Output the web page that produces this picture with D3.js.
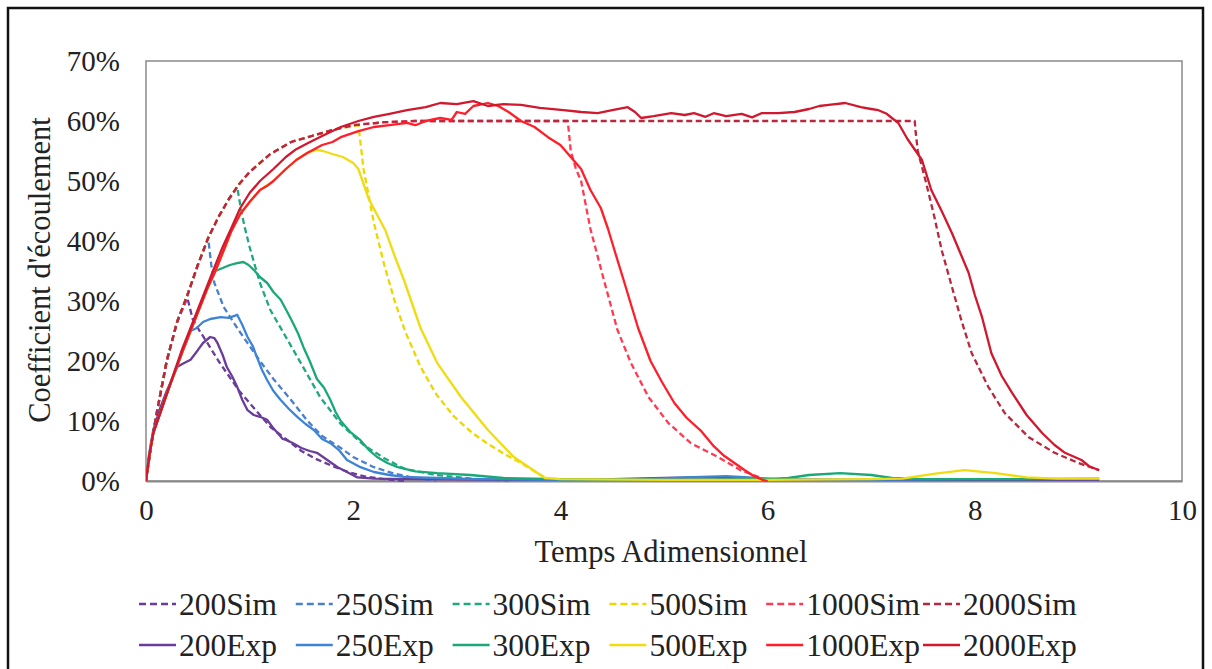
<!DOCTYPE html>
<html><head><meta charset="utf-8">
<script src="https://cdn.jsdelivr.net/npm/d3@7"></script>
<style>body{margin:0;background:#fff}svg{display:block}text{font-family:"Liberation Serif","Times New Roman",serif;fill:#222}</style>
</head><body><svg id="c" width="1212" height="669"></svg>
<script>
// ---------- DATA ----------
const xTicks = [0, 2, 4, 6, 8, 10];
const yTicks = [0, 0.1, 0.2, 0.3, 0.4, 0.5, 0.6, 0.7];
const xTitle = "Temps Adimensionnel";
const yTitle = "Coefficient  d'écoulement";

const seriesNames = ["200Sim","250Sim","300Sim","500Sim","1000Sim","2000Sim","200Exp","250Exp","300Exp","500Exp","1000Exp","2000Exp"];
const seriesColors = ["#6a3d9a","#4a7fd0","#22a880","#ecd800","#ff3a52","#b8283e","#6a3d9a","#3d84d6","#1aa87a","#f0dc10","#ff1e2a","#d0182e"];
const seriesDashed = [true,true,true,true,true,true,false,false,false,false,false,false];

// Simulated curves (t, percent)
const t200Sim = [0,0.05,0.1,0.2,0.3,0.4,0.45,0.5,0.6,0.7,0.8,0.9,1.0,1.1,1.2,1.35,1.5,1.65,1.8,1.95,2.1,2.3,2.5];
const v200Sim = [0,6,11,20,26.5,30.5,27,25.5,22.8,20,17.5,15,13,11,9,7,5,3.6,2.5,1.5,0.8,0.3,0];
const t250Sim = [0,0.05,0.1,0.2,0.3,0.4,0.5,0.6,0.63,0.66,0.75,0.9,1.0,1.1,1.23,1.4,1.56,1.7,1.88,2.0,2.2,2.4,2.6,2.8];
const v250Sim = [0,6,11,20,26.5,31,36,40.5,36,33,29,25,22.5,20,17,13.5,10,7.5,5.5,4,2.3,1.2,0.5,0];
const t300Sim = [0,0.05,0.1,0.2,0.3,0.4,0.5,0.6,0.7,0.8,0.88,0.92,0.95,1.0,1.1,1.2,1.35,1.5,1.68,1.88,2.1,2.3,2.5,2.8,3.2,3.5];
const v300Sim = [0,6,11,20,26.5,31,36,40.5,44,47,49,45,42.5,39,33,28.5,24,19.5,14,9.5,6,3.8,2,1,0.3,0];
const t500Sim = [0,0.05,0.1,0.2,0.3,0.4,0.5,0.6,0.7,0.8,0.9,1.0,1.2,1.4,1.6,1.8,2.05,2.1,2.2,2.3,2.4,2.5,2.65,2.8,2.97,3.15,3.3,3.45,3.62,3.78,3.88];
const v500Sim = [0,6,11,20,26.5,31,36,40.5,44,47,49.5,51.5,54.5,56.5,57.5,58.5,59.3,52,43,36,30,25,19,14.5,10.8,8,6.2,4.6,3,1.3,0.3];
const t1000Sim = [0,0.05,0.1,0.2,0.3,0.4,0.5,0.6,0.7,0.8,0.9,1.0,1.2,1.4,1.6,1.8,2.0,2.3,2.6,4.07,4.08,4.1,4.15,4.2,4.29,4.42,4.55,4.68,4.85,5.04,5.26,5.52,5.74,5.91,6.0];
const v1000Sim = [0,6,11,20,26.5,31,36,40.5,44,47,49.5,51.5,54.5,56.5,57.5,58.5,59.3,59.8,60,60,58.5,55,52,50,42,33.5,25.2,19.7,14,9.7,6.3,4,1.8,0.7,0];
const t2000Sim = [0,0.05,0.1,0.2,0.3,0.4,0.5,0.6,0.7,0.8,0.9,1.0,1.2,1.4,1.6,1.8,2.0,2.3,2.6,7.42,7.43,7.45,7.53,7.61,7.68,7.78,7.87,7.97,8.13,8.29,8.52,8.77,9.0,9.2];
const v2000Sim = [0,6,11,20,26.5,31,36,40.5,44,47,49.5,51.5,54.5,56.5,57.5,58.5,59.3,59.8,60,60,58,55,49.7,44,38.5,32.3,26.8,21.3,15.7,11.3,7.3,4.7,3,1.8];

// Experimental curves (t, percent)
const t200Exp = [0,0.03,0.07,0.14,0.2,0.26,0.3,0.35,0.43,0.5,0.55,0.62,0.66,0.69,0.74,0.78,0.83,0.88,0.93,0.98,1.04,1.1,1.17,1.22,1.27,1.32,1.36,1.42,1.5,1.58,1.65,1.75,1.85,1.94,2.04,2.2,2.5,3.5,4.5,5.0,5.4,5.8,6.2,7.0,8.0,9.2];
const v200Exp = [0,4.5,8.5,12.3,15,17.3,19,19.5,20.2,21.8,23,24,23.8,23,21,19,17.5,15.7,13.5,11.8,11,10.7,10.2,9,8,7,6.8,6.3,5.5,5,4.7,3.5,2.3,1.5,0.6,0.4,0.3,0.2,0.3,0.5,0.6,0.4,0.2,0.2,0.2,0.2];
const t250Exp = [0,0.03,0.07,0.14,0.2,0.26,0.35,0.43,0.49,0.55,0.62,0.72,0.8,0.88,0.93,0.98,1.03,1.07,1.12,1.17,1.23,1.3,1.38,1.46,1.54,1.62,1.7,1.78,1.86,1.94,2.07,2.2,2.35,2.49,2.8,3.2,4.0,4.8,5.2,5.6,5.9,6.1,7.0,8.0,9.2];
const v250Exp = [0,4,8,11.5,14.5,17.3,21.5,25,25.5,26.5,27,27.3,27.2,27.7,26,24,22.5,20.7,18.5,16.8,15,13.5,12,10.7,9.5,8.5,7,6.3,5.2,3.5,2.3,1.5,1,0.7,0.5,0.3,0.2,0.3,0.6,0.8,0.5,0.3,0.2,0.3,0.3];
const t300Exp = [0,0.03,0.07,0.14,0.2,0.26,0.35,0.43,0.51,0.59,0.67,0.74,0.81,0.88,0.94,0.99,1.04,1.1,1.17,1.23,1.3,1.36,1.42,1.47,1.52,1.58,1.65,1.72,1.78,1.83,1.88,1.97,2.07,2.15,2.23,2.33,2.43,2.6,2.81,3.13,3.45,4.0,5.0,6.0,6.2,6.4,6.7,7.0,7.2,7.5,8.5,9.2];
const v300Exp = [0,4,8,11.5,14.5,17.3,21.5,25,28.5,32,35,35.5,36,36.3,36.5,36,35.2,34,33,31.5,30.2,28.3,26.3,24.5,22.3,20,17,15.5,13.5,11.5,10,8.2,6.8,5.2,4,3,2.3,1.6,1.3,1,0.5,0.3,0.2,0.3,0.5,1.0,1.3,1.0,0.5,0.3,0.3,0.4];
const t500Exp = [0,0.03,0.07,0.14,0.2,0.26,0.35,0.43,0.51,0.59,0.67,0.74,0.82,0.91,1.0,1.1,1.23,1.35,1.45,1.56,1.64,1.71,1.8,1.9,2.0,2.05,2.15,2.31,2.4,2.49,2.65,2.81,3.04,3.3,3.55,3.74,3.85,4.0,5.0,6.0,7.0,7.3,7.6,7.9,8.2,8.5,8.8,9.2];
const v500Exp = [0,4,8,11.5,14.5,17.3,21.5,25,28.5,32,35,38,41.5,44.5,46.5,48.5,50,52,53.5,54.7,55.2,55,54.5,54,53,52,47,41.8,37.5,33.5,25.5,19.7,14,8.5,4,1.8,0.5,0.3,0.2,0.2,0.3,0.4,1.2,1.8,1.3,0.6,0.4,0.4];
const t1000Exp = [0,0.03,0.07,0.14,0.2,0.26,0.35,0.43,0.51,0.59,0.67,0.74,0.82,0.91,1.0,1.1,1.17,1.23,1.35,1.45,1.56,1.7,1.8,1.88,2.05,2.2,2.35,2.52,2.6,2.7,2.84,2.95,3.0,3.08,3.16,3.25,3.3,3.4,3.5,3.62,3.75,3.88,4.0,4.1,4.2,4.29,4.39,4.46,4.53,4.61,4.68,4.75,4.87,4.98,5.1,5.22,5.36,5.48,5.58,5.68,5.78,5.87,5.95,6.0];
const v1000Exp = [0,4,8,11.5,14.5,17.3,21.5,25,28.5,32,35,38,41.5,44.5,46.5,48.5,49.2,50,52,53.5,54.7,56,56.5,57.3,58.3,59,59.3,59.7,59.3,60,60.5,60.2,61.5,61.2,62.5,62.8,63,62.5,61.5,60,59,57.3,56,54,52,48.5,45.5,42,38,33.5,29.5,25.5,20,16.5,13,10.5,8.3,5.8,4.2,3,1.8,0.8,0.2,0];
const t2000Exp = [0,0.03,0.07,0.14,0.26,0.35,0.43,0.51,0.59,0.67,0.74,0.82,0.91,1.0,1.1,1.23,1.35,1.45,1.56,1.7,1.88,2.05,2.2,2.35,2.52,2.7,2.84,3.0,3.16,3.3,3.45,3.62,3.8,4.03,4.2,4.36,4.5,4.65,4.72,4.78,4.9,5.07,5.2,5.29,5.4,5.48,5.6,5.75,5.85,5.94,6.1,6.26,6.4,6.5,6.59,6.75,6.9,7.0,7.07,7.15,7.2,7.26,7.35,7.49,7.58,7.68,7.78,7.86,7.94,8.0,8.07,8.16,8.26,8.36,8.5,8.65,8.77,8.87,9.03,9.1,9.2];
const v2000Exp = [0,4,8,11.5,17.5,22,25.5,29,32.5,36,39,42,45.5,48,50,52,54,55.3,56.3,57.5,59,60,60.7,61.2,61.8,62.3,63,62.8,63.3,62.5,62.8,62.7,62.2,61.8,61.5,61.3,61.8,62.3,61.5,60.5,60.8,61.3,61,61.3,60.7,61.3,60.8,61.2,60.6,61.3,61.3,61.5,62,62.5,62.7,63,62.3,62,61.8,61.2,60.5,59.7,57,53.5,48.5,45,41.3,38,34.7,31,27.3,21.3,17.5,14.7,11,8,6,4.7,3.5,2.5,1.8];

const seriesT = [t200Sim,t250Sim,t300Sim,t500Sim,t1000Sim,t2000Sim,t200Exp,t250Exp,t300Exp,t500Exp,t1000Exp,t2000Exp];
const seriesV = [v200Sim,v250Sim,v300Sim,v500Sim,v1000Sim,v2000Sim,v200Exp,v250Exp,v300Exp,v500Exp,v1000Exp,v2000Exp];

// ---------- DRAW ----------
const svg = d3.select("#c");
const TICKFONT = 29, TITLEFONT = 30.5, LEGFONT = 31.5;
const L = 146, R = 1182, T = 61, B = 481;
const x = d3.scaleLinear().domain([0, 10]).range([L, R]);
const y = d3.scaleLinear().domain([0, 0.7]).range([B, T]);

// outer frame
svg.append("rect").attr("x", 8).attr("y", 8).attr("width", 1195).attr("height", 700)
  .attr("fill", "none").attr("stroke", "#111").attr("stroke-width", 2.5);

// plot box
svg.append("rect").attr("x", L).attr("y", T).attr("width", R - L).attr("height", B - T)
  .attr("fill", "none").attr("stroke", "#8a8a8a").attr("stroke-width", 1.5);

svg.append("clipPath").attr("id", "clip").append("rect")
  .attr("x", L).attr("y", T - 2).attr("width", R - L).attr("height", B - T + 4);

// axes
const yAxis = svg.append("g").attr("transform", `translate(${L},0)`)
  .call(d3.axisLeft(y).tickValues(yTicks).tickFormat(d3.format(".0%")).tickSize(0).tickPadding(26));
yAxis.select(".domain").remove();
yAxis.selectAll("text").style("font-size", TICKFONT + "px").attr("dy", "0.34em");

const xAxis = svg.append("g").attr("transform", `translate(0,${B})`)
  .call(d3.axisBottom(x).tickValues(xTicks).tickFormat(d3.format("d")).tickSize(0).tickPadding(30));
xAxis.select(".domain").attr("stroke", "#8a8a8a").attr("stroke-width", 2);
xAxis.selectAll("text").style("font-size", TICKFONT + "px").attr("dy", "0.32em");

svg.append("text").attr("x", 671).attr("y", 562).attr("text-anchor", "middle")
  .style("font-size", TITLEFONT + "px").text(xTitle);
svg.append("text").attr("transform", `translate(50,270) rotate(-90)`).attr("text-anchor", "middle")
  .style("font-size", TITLEFONT + "px").text(yTitle);

// lines
const line = d3.line().x(d => x(d[0])).y(d => y(d[1] / 100));
const g = svg.append("g").attr("clip-path", "url(#clip)");
seriesNames.forEach((name, i) => {
  const pts = seriesT[i].map((t, k) => [t, seriesV[i][k]]);
  g.append("path").datum(pts).attr("d", line)
    .attr("fill", "none").attr("stroke", seriesColors[i])
    .attr("stroke-width", 2.3).attr("stroke-linejoin", "round")
    .attr("stroke-dasharray", seriesDashed[i] ? "6,3.5" : null);
});

// legend
const col = d3.scalePoint().domain(d3.range(6)).range([139, 923]);
const rowY = [604, 645];
seriesNames.forEach((name, i) => {
  const c = i % 6, r = Math.floor(i / 6);
  const lx = col(c), ly = rowY[r];
  svg.append("line").attr("x1", lx).attr("x2", lx + 37).attr("y1", ly).attr("y2", ly)
    .attr("stroke", seriesColors[i]).attr("stroke-width", 2.5)
    .attr("stroke-dasharray", seriesDashed[i] ? "7,4" : null);
  svg.append("text").attr("x", lx + 40).attr("y", ly).attr("dy", "0.35em")
    .style("font-size", LEGFONT + "px").text(name);
});
</script></body></html>
